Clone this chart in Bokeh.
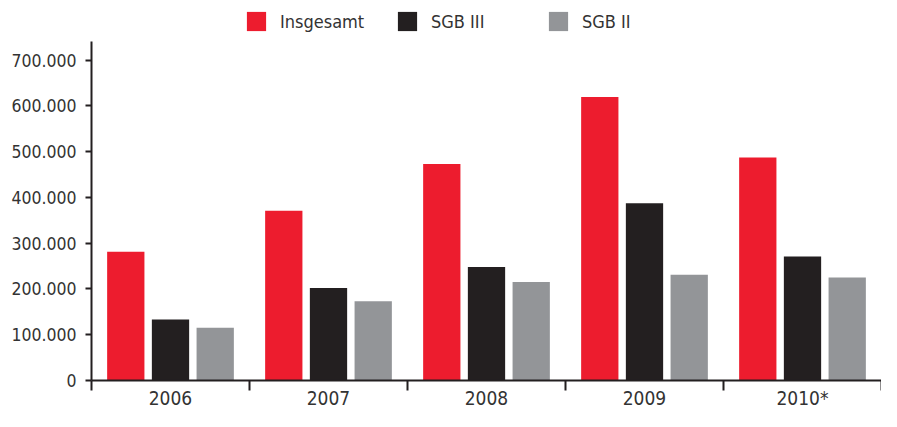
from bokeh.plotting import figure
from bokeh.models import (ColumnDataSource, Range1d, FixedTicker, CustomJSTickFormatter,
                          Legend, LegendItem)
from bokeh.transform import dodge
from bokeh.embed import file_html
from bokeh.resources import INLINE

# ---- data ----
years = ["2006", "2007", "2008", "2009", "2010*"]
insgesamt = [281000, 371000, 473000, 619000, 487000]
sgb3 = [133000, 202000, 248000, 387000, 271000]
sgb2 = [115000, 173000, 215000, 231000, 225000]
series_names = ["Insgesamt", "SGB III", "SGB II"]
y_ticks = [0, 100000, 200000, 300000, 400000, 500000, 600000, 700000]
y_axis_top = 741000

colors = ["#ed1c2e", "#231f20", "#939598"]
text_color = "#333333"
font = "DejaVu Sans Condensed"

xpos = [i + 0.5 for i in range(len(years))]
src = ColumnDataSource(dict(x=xpos, ins=insgesamt, s3=sgb3, s2=sgb2))

p = figure(width=881, height=411, output_backend="svg", toolbar_location=None,
           x_range=Range1d(0, len(years)), y_range=Range1d(0, 830000),
           min_border_left=91, min_border_right=0, min_border_top=0, min_border_bottom=28)
p.outline_line_color = None
p.xgrid.grid_line_color = None
p.ygrid.grid_line_color = None
p.background_fill_color = "white"
p.border_fill_color = "white"

bw = 0.236
off = 0.283
r1 = p.vbar(x=dodge("x", -off), top="ins", width=bw, source=src, fill_color=colors[0], line_color=None)
r2 = p.vbar(x=dodge("x", 0), top="s3", width=bw, source=src, fill_color=colors[1], line_color=None)
r3 = p.vbar(x=dodge("x", off), top="s2", width=bw, source=src, fill_color=colors[2], line_color=None)

# y axis
ya = p.yaxis[0]
ya.bounds = (0, y_axis_top)
ya.ticker = FixedTicker(ticks=y_ticks)
ya.formatter = CustomJSTickFormatter(code="return String(Math.round(tick)).replace(/\\B(?=(\\d{3})+(?!\\d))/g, '.');")
ya.axis_line_width = 2
ya.axis_line_color = "#231f20"
ya.major_tick_line_width = 2
ya.major_tick_line_color = "#231f20"
ya.major_tick_out = 6
ya.major_tick_in = 0
ya.minor_tick_line_color = None
ya.major_label_standoff = 9
ya.major_label_text_font = font
ya.major_label_text_font_size = "17.5px"
ya.major_label_text_color = text_color

# x axis: ticks at category boundaries, labels at centres
xa = p.xaxis[0]
xa.ticker = FixedTicker(ticks=xpos, minor_ticks=list(range(len(years) + 1)))
xa.formatter = CustomJSTickFormatter(args=dict(labels=years), code="return labels[Math.floor(tick)];")
xa.axis_line_width = 2
xa.axis_line_color = "#231f20"
xa.major_tick_line_color = None
xa.major_tick_out = 0
xa.major_tick_in = 0
xa.minor_tick_line_color = "#231f20"
xa.minor_tick_line_width = 2
xa.minor_tick_out = 10
xa.minor_tick_in = 0
xa.major_label_standoff = -4
xa.major_label_text_font = font
xa.major_label_text_font_size = "19px"
xa.major_label_text_color = text_color

legend = Legend(items=[LegendItem(label=series_names[0], renderers=[r1]),
                       LegendItem(label=series_names[1], renderers=[r2]),
                       LegendItem(label=series_names[2], renderers=[r3])],
                orientation="horizontal", location=(153, 347),
                glyph_width=24, glyph_height=24, label_standoff=12, spacing=0, label_width=115,
                padding=0, margin=0, border_line_color=None, background_fill_alpha=0,
                label_text_font=font, label_text_font_size="18px", label_text_color=text_color)
p.add_layout(legend)

open("out.html", "w").write(file_html(p, INLINE))
